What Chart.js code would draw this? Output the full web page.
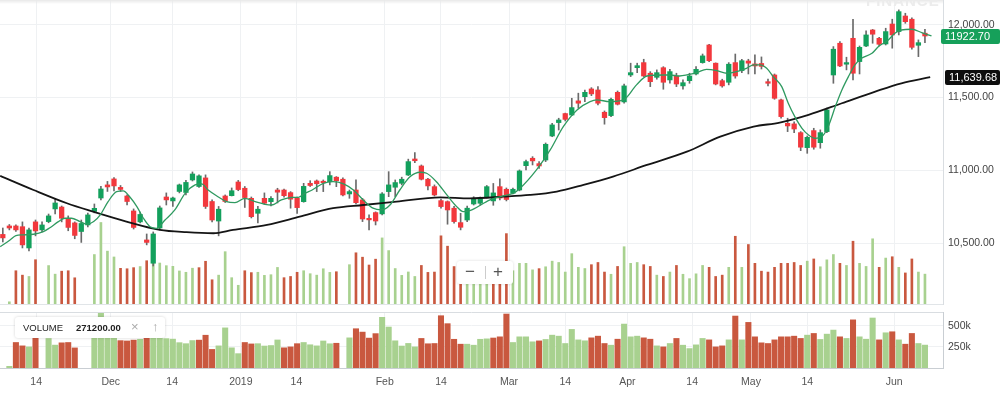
<!DOCTYPE html>
<html>
<head>
<meta charset="utf-8">
<script src="https://cdn.jsdelivr.net/npm/chart.js@4.4.1/dist/chart.umd.min.js"></script>
<style>
  html, body { margin: 0; padding: 0; background: #fff; }
  #wrap { position: relative; width: 1000px; height: 394px; overflow: hidden;
          font-family: "Liberation Sans", Arial, sans-serif; }
  #priceBox { position: absolute; left: 0; top: 0; width: 1000px; height: 305px; }
  #volBox { position: absolute; left: 0; top: 304px; width: 1000px; height: 90px; }
  .tag { position: absolute; color: #fff; font-size: 11px; line-height: 15px; height: 15px;
         padding-left: 4px; box-sizing: border-box; border-radius: 2px; }
  #lastPrice { left: 941px; top: 29px; width: 59px; background: #16a05a; }
  #maPrice { left: 945px; top: 70px; width: 55px; background: #0e0e0e; }
  #finance { position: absolute; left: 866px; top: -8px; font-size: 15px; font-weight: bold;
             color: #ececec; letter-spacing: 1px; }
  #topShade { position: absolute; left: 0; top: 0; width: 943px; height: 4px;
              background: linear-gradient(#e8e8e8, rgba(255,255,255,0)); }
  #legend { position: absolute; left: 15px; top: 317px; width: 150px; height: 21px; background: #fff;
            border-radius: 3px; box-shadow: 0 0 3px rgba(0,0,0,0.18); font-size: 9.5px; color: #222; }
  #legend span { position: absolute; top: 5px; }
  #legend .ic { color: #aaa; font-size: 13px; top: 2px; }
  #zoomCtl { position: absolute; left: 457px; top: 261px; width: 56px; height: 23px; background: #fff;
             border-radius: 3px; box-shadow: 0 0 3px rgba(0,0,0,0.15); color: #555; font-size: 17px; }
  #zoomCtl span { position: absolute; top: 1px; }
  #zoomCtl i { position: absolute; left: 28px; top: 5px; width: 1px; height: 13px; background: #ccc; }
</style>
</head>
<body>
<div id="wrap">
  <div id="priceBox"><canvas id="priceChart" width="1000" height="305"></canvas></div>
  <div id="volBox"><canvas id="volChart" width="1000" height="90"></canvas></div>
  <div id="topShade"></div>
  <div id="finance">FINANCE</div>
  <div id="lastPrice" class="tag">11922.70</div>
  <div id="maPrice" class="tag">11,639.68</div>
  <div id="zoomCtl"><span style="left:8px">−</span><i></i><span style="left:36px">+</span></div>
  <div id="legend">
    <span style="left:8px">VOLUME</span>
    <span style="left:61px;font-weight:bold">271200.00</span>
    <span class="ic" style="left:116px">×</span>
    <span class="ic" style="left:137px">↑</span>
  </div>
</div>
<script>
/* ------------------------------------------------------------
   DATA (one entry per trading day)
------------------------------------------------------------ */
const open = [10560,10618,10618,10613,10467,10646,10591,10648,10735,10748,
  10670,10639,10580,10625,10718,10810,10900,10941,10883,10824,
  10721,10646,10522,10362,10604,10817,10790,10855,10848,10934,
  10889,10948,10786,10652,10824,10826,10920,10877,10808,10705,
  10808,10785,10865,10865,10847,10808,10785,10911,10927,10925,
  10922,10953,10939,10838,10865,10797,10668,10710,10701,10854,
  10884,10911,10968,11078,11030,10939,10888,10792,10785,10740,
  10641,10659,10769,10774,10817,10790,10888,10870,10843,10865,
  11032,11083,11046,11071,11236,11328,11390,11380,11477,11506,
  11559,11552,11399,11376,11536,11470,11655,11705,11740,11667,
  11639,11705,11621,11648,11580,11616,11662,11740,11861,11736,
  11616,11605,11740,11685,11751,11731,11734,11609,11655,11484,
  11323,11319,11259,11156,11273,11190,11266,11655,11873,11729,
  11907,11747,11854,11964,11907,11868,12005,11953,12060,12038,
  11859,11942];
const high = [10604,10628,10625,10646,10604,10659,10646,10700,10804,10755,
  10687,10646,10659,10707,10769,10890,10924,10951,10896,10831,
  10735,10714,10563,10577,10755,10845,10817,10906,10931,10989,
  10969,10969,10797,10752,10831,10879,10931,10889,10817,10752,
  10845,10820,10877,10872,10854,10817,10911,10929,10934,10934,
  10991,10957,10948,10865,10934,10808,10694,10715,10847,10991,
  10934,10953,11077,11122,11037,10946,10900,10802,10790,10752,
  10705,10755,10819,10817,10896,10910,10941,10879,10879,11003,
  11071,11094,11060,11188,11323,11358,11393,11495,11530,11552,
  11568,11575,11408,11497,11545,11593,11736,11736,11763,11678,
  11690,11712,11694,11667,11621,11667,11712,11799,11866,11738,
  11626,11740,11799,11763,11763,11793,11779,11626,11662,11490,
  11358,11333,11266,11236,11289,11278,11427,11850,11884,11777,
  12038,11854,11959,11968,11914,11976,12038,12102,12079,12047,
  11896,11969];
const low = [10508,10591,10580,10467,10446,10550,10577,10640,10700,10646,
  10585,10530,10505,10611,10708,10797,10855,10859,10855,10762,
  10597,10639,10488,10343,10591,10762,10752,10845,10831,10927,
  10883,10738,10646,10550,10779,10824,10860,10745,10673,10639,
  10766,10756,10776,10815,10740,10705,10781,10889,10854,10854,
  10900,10888,10824,10808,10769,10648,10591,10625,10694,10819,
  10819,10900,10964,11053,10934,10865,10824,10740,10630,10637,
  10591,10648,10762,10762,10810,10760,10797,10790,10838,10859,
  11003,11037,11014,11060,11231,11277,11339,11376,11427,11472,
  11513,11449,11317,11369,11449,11461,11644,11671,11644,11575,
  11626,11557,11598,11575,11557,11598,11655,11736,11747,11587,
  11571,11587,11633,11671,11662,11662,11696,11580,11488,11358,
  11266,11259,11135,11117,11145,11152,11259,11598,11712,11690,
  11621,11662,11850,11873,11854,11861,11839,11930,12010,11832,
  11781,11877];
const close = [10536,10604,10591,10488,10591,10584,10625,10687,10776,10671,
  10608,10553,10635,10694,10739,10872,10886,10893,10869,10786,
  10608,10697,10505,10563,10742,10797,10810,10900,10917,10975,
  10962,10752,10659,10733,10786,10860,10868,10813,10682,10733,
  10774,10808,10850,10826,10802,10744,10890,10896,10908,10915,
  10964,10929,10831,10854,10778,10666,10660,10652,10838,10900,
  10916,10939,11060,11066,10939,10893,10831,10751,10728,10648,
  10609,10740,10808,10812,10888,10845,10810,10800,10870,10996,
  11060,11065,11030,11179,11312,11346,11350,11431,11461,11536,
  11525,11461,11362,11488,11454,11580,11671,11719,11648,11609,
  11671,11605,11678,11593,11602,11648,11694,11786,11753,11593,
  11580,11729,11648,11753,11736,11717,11714,11598,11495,11369,
  11305,11284,11159,11227,11159,11259,11415,11832,11717,11740,
  11667,11845,11930,11935,11866,11953,11930,12090,12021,11845,
  11877,11922.7];
// volume in thousands, null where the picture shows no bar
const volumeK = [null,20,302,262,250,402,null,349,271,298,
  302,238,null,null,449,740,480,427,324,320,
  330,340,393,380,372,348,342,300,288,325,
  330,388,220,262,475,239,170,302,285,288,
  260,266,332,239,250,288,302,275,262,320,
  287,293,null,357,465,425,354,407,600,485,
  322,260,291,250,350,287,290,619,525,340,
  282,282,270,340,345,355,369,639,302,369,
  369,310,321,338,389,377,290,457,333,322,
  357,377,290,270,341,520,369,377,357,341,
  262,250,290,350,270,230,274,350,333,250,
  262,333,615,333,540,369,298,290,333,369,
  369,377,350,389,409,338,401,449,369,350,
  570,369,341,592,333,417,429,333,282,409,
  290,271.2];

// short moving average (green), read at these day positions
const fastX = [-0.4,1.1,2.0,3.1,4.7,6.2,7.2,8.5,9.5,10.5,11.8,12.9,13.9,14.9,16.1,17.4,18.4,19.4,20.5,21.5,
  22.5,23.5,24.8,26.3,27.9,29.4,30.4,31.4,32.9,34.2,35.5,37.0,38.6,40.1,41.1,42.6,44.2,45.2,46.2,47.3,
  49.0,50.5,52.1,53.6,55.1,56.6,57.9,59.2,60.7,62.3,63.8,64.8,66.3,67.9,69.4,70.4,71.4,74.5,76.5,78.1,
  79.1,81.6,83.7,85.7,87.8,89.8,90.8,92.8,94.9,96.9,98.5,101,102,103.5,104.6,106.1,107.6,109.2,110.7,112.2,
  113.7,114.8,115.8,116.8,117.8,119.1,120.1,121.1,122.2,123.2,124.2,125.2,126.2,127.3,128.3,129.3,130.3,131.3,132.9,133.9,
  135.4,136.4,137.4,139,140.5,142];
const fastY = [10476,10522,10552,10557,10561,10579,10606,10648,10671,10671,10648,10630,10648,10694,10785,10854,10859,10819,10751,10671,
  10613,10602,10659,10728,10843,10900,10907,10865,10819,10785,10778,10808,10785,10767,10762,10797,10815,10815,10843,10865,
  10911,10922,10907,10865,10797,10740,10728,10762,10865,10957,10987,10980,10922,10831,10751,10716,10723,10797,10824,10843,
  10877,11003,11140,11300,11415,11472,11484,11472,11484,11587,11648,11655,11655,11648,11655,11671,11694,11685,11667,11678,
  11701,11724,11724,11701,11644,11575,11461,11369,11289,11243,11220,11231,11300,11438,11552,11644,11724,11770,11804,11850,
  11896,11942,11964,11969,11946,11923];

// long moving average (black)
const slowX = [-0.4,4.7,9.8,13.8,18.9,24,28.1,32.2,35.2,40.4,45.4,50.5,55.1,60.2,66.9,71.4,
  76.5,80.6,84.7,88.8,93.3,98.5,104.6,109.7,114.8,118.8,123.2,128.3,133.4,137.4,141.8];
const slowY = [10962,10865,10774,10716,10648,10591,10575,10568,10591,10625,10682,10740,10762,10785,10815,10808,
  10819,10831,10854,10900,10957,11037,11128,11231,11300,11328,11381,11461,11541,11598,11640];

// date ticks on the day axis
const tickAt = [5.1,16.5,25.9,36.4,44.9,58.4,67.0,77.4,86.0,95.5,105.4,114.4,123.0,136.3];
const tickText = ['14','Dec','14','2019','14','Feb','14','Mar','14','Apr','14','May','14','Jun'];
const priceTicks = [10500, 11000, 11500, 12000];
const volTicks = [250, 500];

/* ------------------------------------------------------------
   STYLE
------------------------------------------------------------ */
const UP = '#13a05c', DOWN = '#f2383d', WICK = '#6a6a6a';
const VOL_UP = '#a8d18f', VOL_DOWN = '#c9583f';
const GRID = '#eff1f3';
const X_MIN = -0.43, X_MAX = 143.76;
const FONT = { family: '"Liberation Sans", Arial, sans-serif', size: 10.5 };

const volUp = i => i === 0 || close[i] >= close[i - 1];
const days = close.map((_, i) => i);

// scale sizes are pinned so both panels share the same plot box
function pinY(s) {
  s.width = 57;
  s.paddingTop = 0;
  s.paddingBottom = 0;
}

const xAxis = (showLabels) => ({
  type: 'linear', min: X_MIN, max: X_MAX, offset: false,
  afterBuildTicks: s => { s.ticks = tickAt.map(v => ({ value: v })); },
  ticks: { display: showLabels, autoSkip: false, maxRotation: 0, padding: 8, color: '#555', font: FONT,
           callback: (v, i) => tickText[i] },
  grid: { color: GRID, drawTicks: false, offset: false },
  border: { display: true, color: showLabels ? '#c9ced3' : '#e1e5e8' },
  afterFit: s => { s.height = showLabels ? 26 : 0; s.paddingLeft = 0; s.paddingRight = 0; }
});

/* ------------------------------------------------------------
   PRICE PANEL
------------------------------------------------------------ */
new Chart(document.getElementById('priceChart'), {
  type: 'bar',
  data: {
    datasets: [
      {
        type: 'line', label: 'fast', data: fastX.map((x, i) => ({ x, y: fastY[i] })),
        borderColor: '#2f9a60', borderWidth: 1.3, pointRadius: 0, cubicInterpolationMode: 'monotone',
        yAxisID: 'y', order: 1
      },
      {
        type: 'line', label: 'slow', data: slowX.map((x, i) => ({ x, y: slowY[i] })),
        borderColor: '#151515', borderWidth: 1.8, pointRadius: 0, cubicInterpolationMode: 'monotone',
        yAxisID: 'y', order: 2
      },
      {
        label: 'body', data: days.map(i => ({ x: i, y: [open[i], close[i]] })),
        backgroundColor: c => close[c.raw.x] >= open[c.raw.x] ? UP : DOWN,
        barThickness: 4.6, minBarLength: 1.5, grouped: false, yAxisID: 'y', order: 3
      },
      {
        label: 'wick', data: days.map(i => ({ x: i, y: [low[i], high[i]] })),
        backgroundColor: WICK, barThickness: 1, grouped: false, yAxisID: 'y', order: 4
      },
      {
        label: 'volume', data: days.filter(i => volumeK[i] !== null).map(i => ({ x: i, y: volumeK[i] })),
        backgroundColor: c => volUp(c.raw.x) ? VOL_UP : VOL_DOWN,
        barThickness: 2, grouped: false, yAxisID: 'yv', order: 5
      }
    ]
  },
  options: {
    responsive: false, animation: false,
    layout: { padding: { top: 0, bottom: 1, left: 0, right: 0 } },
    plugins: { legend: { display: false }, tooltip: { enabled: false } },
    scales: {
      x: xAxis(false),
      y: {
        position: 'right', min: 10082, max: 12170, beginAtZero: false,
        afterBuildTicks: s => { s.ticks = priceTicks.map(v => ({ value: v })); },
        ticks: { padding: 5, color: '#444', font: FONT,
                 callback: v => v.toLocaleString('en-US', { minimumFractionDigits: 2, maximumFractionDigits: 2 }) },
        grid: { color: GRID, drawTicks: false },
        border: { display: true, color: '#d9dde1' },
        afterFit: pinY
      },
      yv: { display: false, min: 0, max: 2760 }
    }
  }
});

/* ------------------------------------------------------------
   VOLUME PANEL
------------------------------------------------------------ */
const topLine = {
  id: 'topLine',
  afterDraw(chart) {
    const { ctx, chartArea: a } = chart;
    ctx.save();
    ctx.strokeStyle = '#d9dde1';
    ctx.lineWidth = 1;
    ctx.beginPath();
    ctx.moveTo(a.left, a.top + 0.5);
    ctx.lineTo(a.right, a.top + 0.5);
    ctx.stroke();
    ctx.restore();
  }
};

new Chart(document.getElementById('volChart'), {
  type: 'bar',
  data: {
    datasets: [{
      label: 'volume', data: days.filter(i => volumeK[i] !== null).map(i => ({ x: i, y: volumeK[i] })),
      backgroundColor: c => volUp(c.raw.x) ? VOL_UP : VOL_DOWN,
      barThickness: 5.4, grouped: false
    }]
  },
  options: {
    responsive: false, animation: false,
    layout: { padding: { top: 8, bottom: 0, left: 0, right: 0 } },
    plugins: { legend: { display: false }, tooltip: { enabled: false } },
    scales: {
      x: xAxis(true),
      y: {
        position: 'right', min: 0, max: 663,
        afterBuildTicks: s => { s.ticks = volTicks.map(v => ({ value: v })); },
        ticks: { padding: 5, color: '#444', font: FONT, callback: v => v + 'k' },
        grid: { color: GRID, drawTicks: false },
        border: { display: true, color: '#c9ced3' },
        afterFit: pinY
      }
    }
  },
  plugins: [topLine]
});
</script>
</body>
</html>
